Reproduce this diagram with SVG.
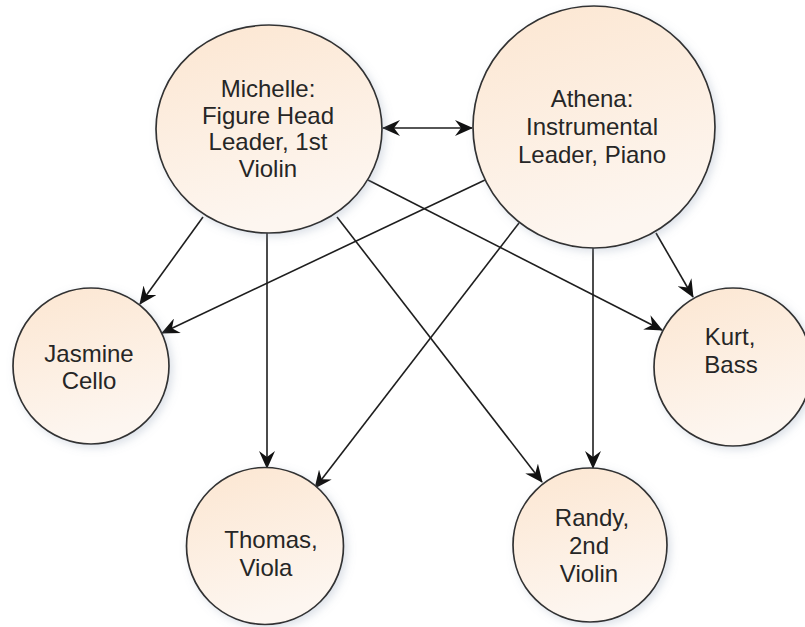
<svg xmlns="http://www.w3.org/2000/svg" width="805" height="627" viewBox="0 0 805 627">
  <defs>
    <linearGradient id="peach" x1="0" y1="0" x2="0.3" y2="1">
      <stop offset="0" stop-color="#fce6d1"/>
      <stop offset="1" stop-color="#fdf6f0"/>
    </linearGradient>
    <filter id="soft" x="-20%" y="-20%" width="140%" height="140%">
      <feDropShadow dx="3" dy="3" stdDeviation="4" flood-color="#8a9ab0" flood-opacity="0.3"/>
    </filter>
    <marker id="arrow" viewBox="0 0 18 16" refX="17" refY="8" markerWidth="18" markerHeight="16" markerUnits="userSpaceOnUse" orient="auto-start-reverse">
      <path d="M0,0 L18,8 L0,16 L6,8 Z" fill="#111"/>
    </marker>
  </defs>
  <style>
    .node { fill: url(#peach); stroke: #333; stroke-width: 1.7; filter: url(#soft); }
    .label { font-family: "Liberation Sans", Arial, sans-serif; font-size: 24px; fill: #262626; text-anchor: middle; }
    .edge { stroke: #1e1e1e; stroke-width: 1.6; fill: none; marker-end: url(#arrow); }
  </style>

  <rect width="805" height="627" fill="#ffffff"/>

  <g id="connectors">
    <line class="edge" x1="383" y1="128" x2="472" y2="128" marker-start="url(#arrow)"/>
    <line class="edge" x1="203" y1="217" x2="140" y2="304"/>
    <line class="edge" x1="485" y1="180" x2="162" y2="333"/>
    <line class="edge" x1="267" y1="233" x2="267" y2="468"/>
    <line class="edge" x1="337" y1="217" x2="542" y2="482"/>
    <line class="edge" x1="368" y1="180" x2="662" y2="330"/>
    <line class="edge" x1="519" y1="223" x2="315" y2="488"/>
    <line class="edge" x1="593" y1="248" x2="593" y2="468"/>
    <line class="edge" x1="656" y1="233" x2="693" y2="297"/>
  </g>

  <g id="michelle">
    <ellipse class="node" cx="269" cy="129" rx="113" ry="104"/>
    <text class="label"><tspan x="268" y="97">Michelle:</tspan><tspan x="268" y="123.5">Figure Head</tspan><tspan x="268" y="150">Leader, 1st</tspan><tspan x="268" y="177">Violin</tspan></text>
  </g>

  <g id="athena">
    <circle class="node" cx="594" cy="127" r="121"/>
    <text class="label"><tspan x="592" y="107">Athena:</tspan><tspan x="592" y="135">Instrumental</tspan><tspan x="592" y="163">Leader, Piano</tspan></text>
  </g>

  <g id="jasmine">
    <circle class="node" cx="91" cy="366" r="78"/>
    <text class="label"><tspan x="89" y="362">Jasmine</tspan><tspan x="89" y="389">Cello</tspan></text>
  </g>

  <g id="thomas">
    <circle class="node" cx="265" cy="546" r="78.5"/>
    <text class="label"><tspan x="271" y="548">Thomas,</tspan><tspan x="266" y="576">Viola</tspan></text>
  </g>

  <g id="randy">
    <circle class="node" cx="590" cy="545" r="77"/>
    <text class="label"><tspan x="592" y="526">Randy,</tspan><tspan x="589" y="554">2nd</tspan><tspan x="589" y="582">Violin</tspan></text>
  </g>

  <g id="kurt">
    <circle class="node" cx="733" cy="367" r="79"/>
    <text class="label"><tspan x="730" y="345">Kurt,</tspan><tspan x="731" y="373">Bass</tspan></text>
  </g>
</svg>
